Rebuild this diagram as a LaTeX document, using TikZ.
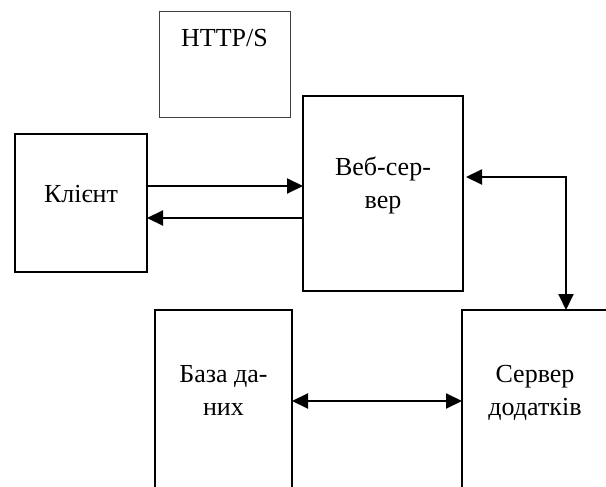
\documentclass[tikz,border=0pt]{standalone}
\usepackage{fontspec}
\setmainfont{Liberation Serif}
\usetikzlibrary{arrows.meta}
\tikzset{
  box/.style={draw=black, line width=2pt, minimum width=#1, inner sep=0pt, outer sep=0pt},
  thinbox/.style={draw=black!75, line width=1.1pt, inner sep=0pt, outer sep=0pt},
  txt/.style={font=\fontsize{26}{33}\selectfont, align=center, inner sep=0pt, anchor=base},
  tip/.tip={Triangle[length=16pt 0 0,width=15pt 0 0]},
  arr/.style={line width=2pt, -tip},
  darr/.style={line width=2pt, tip-tip},
}
\begin{document}
\begin{tikzpicture}[x=1pt,y=-1pt]
\useasboundingbox (0,0) rectangle (606,487);
\clip (0,0) rectangle (606,487);
\fill[white] (0,0) rectangle (606,487);
% boxes
\node[thinbox, minimum width=131pt, minimum height=106pt] (http) at (225,64.5) {};
\node[box=132pt, minimum height=138pt] (client) at (81,203) {};
\node[box=160pt, minimum height=195pt] (web) at (383,193.5) {};
\node[box=137pt, minimum height=220pt] (db) at (223.5,420) {};
\node[box=145pt, minimum height=220pt] (app) at (534.5,420) {};
% texts
\node[txt] (httpt) at (224.5,47) {HTTP/S};
\node[txt] (clientt) at (81,202) {Клієнт};
\node[txt] (webt) at (383,208) {Веб-сер-\\вер};
\node[txt] (dbt) at (223.5,415) {База да-\\них};
\node[txt] (appt) at (535,415) {Сервер\\додатків};
% connectors
\coordinate (c1) at ([yshift=17pt]client.east);
\coordinate (c2) at ([yshift=-15pt]client.east);
\draw[arr] (c1) -- (c1 -| web.west);
\draw[arr] (c2 -| web.west) -- (c2);
\coordinate (w1) at ([yshift=16.5pt]web.east);
\coordinate (a1) at ([xshift=31.5pt]app.north);
\draw[darr, shorten <=3pt] (w1) -| (a1);
\coordinate (d1) at ([yshift=19pt]db.east);
\draw[darr] (d1) -- (d1 -| app.west);
\end{tikzpicture}
\end{document}
